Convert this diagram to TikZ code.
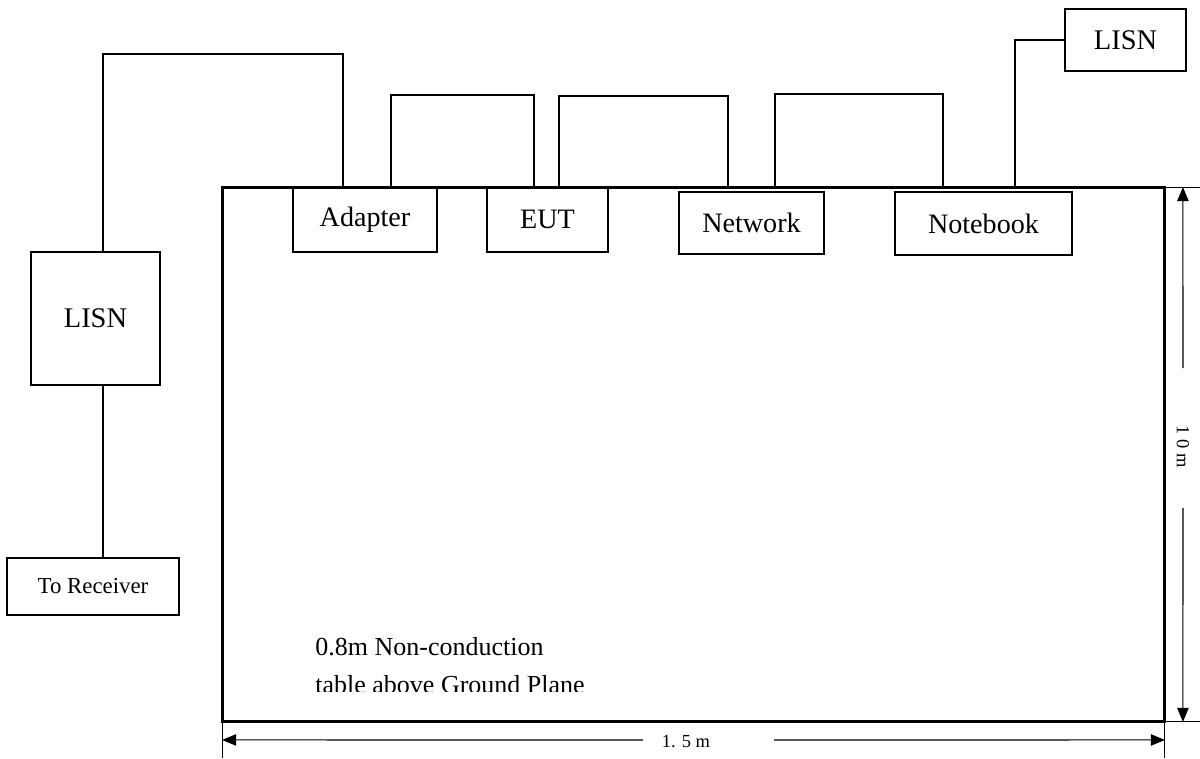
\documentclass[tikz,border=0pt]{standalone}
\usepackage{fontspec}
\setmainfont{Liberation Serif}
\usetikzlibrary{calc,arrows.meta}
\begin{document}
\begin{tikzpicture}[x=0.02cm, y=-0.02cm,
  box/.style={draw, line width=0.9pt, inner sep=0pt, outer sep=0pt, font=\fontsize{16}{18}\selectfont},
  wire/.style={line width=0.9pt},
  dim/.style={line width=0.6pt},
  tip/.style={-{Triangle[length=8pt,width=6.5pt]}},
  dimlabel/.style={font=\fontsize{10.5}{12}\selectfont, inner sep=1pt}]
\useasboundingbox (0,0) rectangle (1200,758);
% table
\node[draw, line width=1.7pt, outer sep=0pt, inner sep=0pt, minimum width=18.86cm, minimum height=10.7cm] (table) at (693.5,454.5) {};
% boxes
\node[box, minimum width=2.88cm, minimum height=1.3cm] (adapter) at (365,219.5) {Adapter};
\node[box, minimum width=2.42cm, minimum height=1.3cm] (eut) at (547.5,219.5) {EUT};
\node[box, minimum width=2.9cm, minimum height=1.24cm] (network) at (751.5,223) {Network};
\node[box, minimum width=3.54cm, minimum height=1.26cm] (notebook) at (983.5,223.5) {Notebook};
\node[box, minimum width=2.42cm, minimum height=1.24cm, font=\fontsize{16.2}{18}\selectfont] (lisnR) at (1125.5,40) {LISN};
\node[box, minimum width=2.58cm, minimum height=2.66cm, font=\fontsize{16.2}{18}\selectfont] (lisnL) at (95.5,318.5) {LISN};
\node[box, minimum width=3.44cm, minimum height=1.14cm, font=\fontsize{13}{15}\selectfont] (recv) at (93,586.5) {To Receiver};
% cables
\draw[wire] ($(lisnL.north)+(7.5,0)$) |- ($(adapter.north)+(-22,-133)$) -- ($(adapter.north)+(-22,0)$);
\draw[wire] ($(lisnL.south)+(7.5,0)$) -- ($(recv.north)+(10,0)$);
\draw[wire] ($(adapter.north)+(26,0)$) |- ($(eut.north)+(-13.5,-92)$) -- ($(eut.north)+(-13.5,0)$);
\draw[wire] ($(eut.north)+(11.5,0)$) |- ($(network.north)+(-23.5,-96)$) -- ($(network.north)+(-23.5,-5)$);
\draw[wire] ($(network.north)+(23.5,-5)$) |- ($(notebook.north)+(-40.5,-98)$) -- ($(notebook.north)+(-40.5,-5)$);
\draw[wire] ($(notebook.north)+(31.5,-5)$) |- (lisnR.west);
% table text
\begin{scope}
\clip (222,600) rectangle (700,691);
\node[anchor=base west, inner sep=0pt, font=\fontsize{14.8}{17}\selectfont] (note1) at (315,655) {0.8m Non-conduction};
\node[anchor=base west, inner sep=0pt, font=\fontsize{14.8}{17}\selectfont] (note2) at (315,693) {table above Ground Plane};
\end{scope}
% dimensions
\draw[dim] (table.south west) -- ++(0,36);
\draw[dim] (table.south east) -- ++(0,36);
\draw[dim] (table.north east) -- ++(35,0);
\draw[dim] (table.south east) -- ++(35,0);
\coordinate (wgapL) at (643,740);
\coordinate (wgapR) at (774,740);
\coordinate (hgapT) at (1183,368);
\coordinate (hgapB) at (1183,508);
\draw[dim, tip] (wgapL) -- ($(table.south west)+(0,18)$);
\draw[dim, tip] (wgapR) -- ($(table.south east)+(0,18)$);
\node[dimlabel] (wlabel) at (686,742) {1. 5 m};
\draw[dim, tip] (hgapT) -- ($(table.north east)+(18,0)$);
\draw[dim, tip] (hgapB) -- ($(table.south east)+(18,0)$);
\node[dimlabel, rotate=-90] (hlabel) at (1183,447) {1 0 m};
\end{tikzpicture}
\end{document}
